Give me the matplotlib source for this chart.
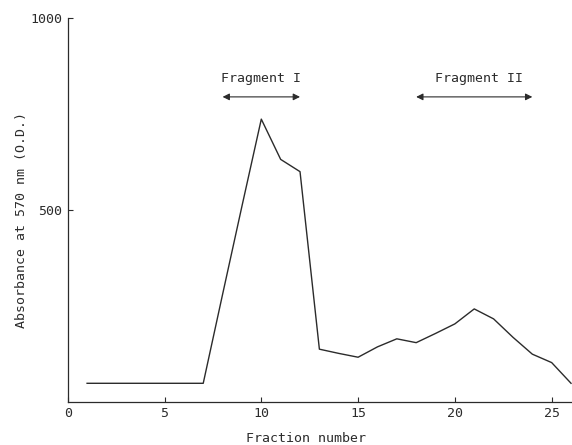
import matplotlib
matplotlib.use("Agg")
import matplotlib.pyplot as plt

# Data
fractions = [1, 2, 3, 4, 5, 6, 7, 8, 9, 10, 11, 12, 13, 14, 15, 16, 17, 18, 19,
             20, 21, 22, 23, 24, 25, 26]
absorbance = [48, 48, 48, 48, 48, 48, 48, 280, 510, 737, 632, 600, 137, 126, 116,
              143, 164, 154, 178, 203, 242, 216, 168, 124, 102, 48]

x_ticks = [0, 5, 10, 15, 20, 25]
y_ticks = [500, 1000]

fragments = ["Fragment I", "Fragment II"]
fragment_ranges = [(8, 12), (18, 24)]
fragment_label_x = [10, 21.27]

ink = "#2b2b2b"
plt.rcParams['font.family'] = ['DejaVu Sans Mono', 'DejaVu Sans']

fig = plt.figure(figsize=(5.72, 4.45), dpi=100)
ax = fig.add_axes([0.1184, 0.0973, 0.8816, 0.8616])

ax.plot(fractions, absorbance, color=ink, lw=1.0)

ax.set_xlim(0, 26.05)
ax.set_ylim(0, 1000)
ax.set_xticks(x_ticks)
ax.set_yticks(y_ticks)
ax.tick_params(direction='in', length=3.5, width=0.8, colors=ink,
               labelsize=9.5, pad=4)

for s in ['top', 'right']:
    ax.spines[s].set_visible(False)
for s in ['left', 'bottom']:
    ax.spines[s].set_color(ink)
    ax.spines[s].set_linewidth(0.9)

ax.set_xlabel("Fraction number", fontsize=9.5, color=ink)
ax.xaxis.set_label_coords(0.4726, -0.0947)
ax.xaxis.label.set_va('center')
ax.set_ylabel("Absorbance at 570 nm (O.D.)", fontsize=9.5, color=ink)
ax.yaxis.set_label_coords(-0.0912, 0.474)
ax.yaxis.label.set_va('center')

for name, (a, b), lx in zip(fragments, fragment_ranges, fragment_label_x):
    ax.annotate("", xy=(a, 795), xytext=(b, 795),
                arrowprops=dict(arrowstyle='<|-|>', mutation_scale=10,
                                lw=0.8, color=ink, shrinkA=0, shrinkB=0))
    ax.text(lx, 843, name, ha='center', va='center', fontsize=9.5, color=ink)

fig.savefig("out.png", dpi=100, facecolor='white')
